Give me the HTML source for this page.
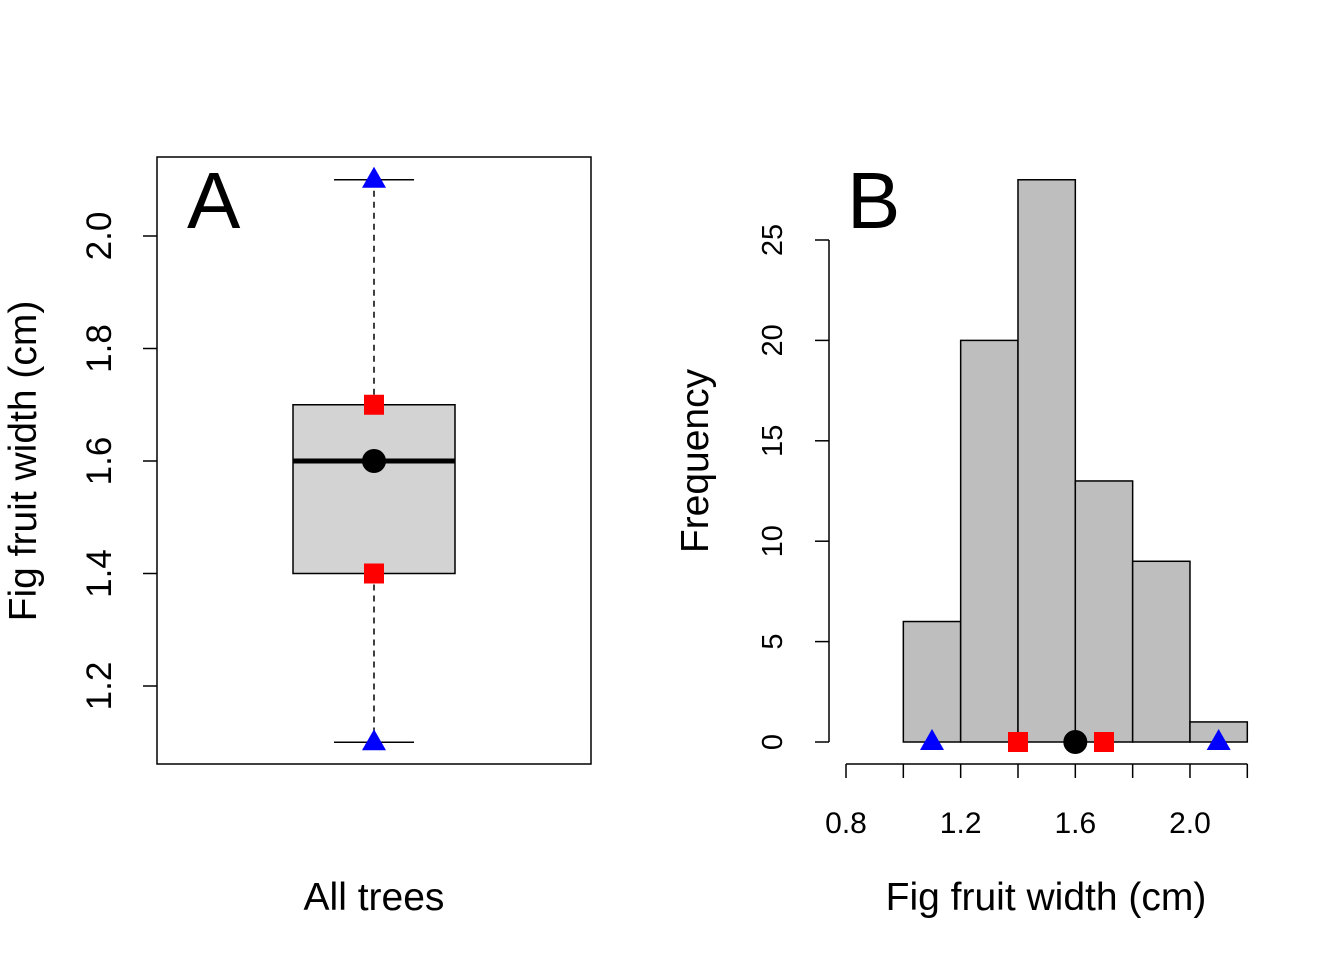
<!DOCTYPE html>
<html><head><meta charset="utf-8"><style>body{margin:0;background:#fff}svg{display:block}text{font-family:"Liberation Sans",sans-serif}</style></head>
<body>
<svg id="c" width="1344" height="960" xmlns="http://www.w3.org/2000/svg"></svg>
<script>
const boxStats=[1.1,1.4,1.6,1.7,2.1]; // min,q1,median,q3,max
const ticksA=[1.2,1.4,1.6,1.8,2.0];
const binEdges=[1.0,1.2,1.4,1.6,1.8,2.0,2.2];
const counts=[6,20,28,13,9,1];
const ticksBx=[0.8,1.0,1.2,1.4,1.6,1.8,2.0,2.2];
const labelsBx=["0.8","","1.2","","1.6","","2.0",""];
const ticksBy=[0,5,10,15,20,25];
const triPts=[1.1,2.1], sqPts=[1.4,1.7], circPt=[1.6];
const NS="http://www.w3.org/2000/svg",s=document.getElementById('c');
function el(t,a,txt){const e=document.createElementNS(NS,t);for(const k in a)e.setAttribute(k,a[k]);if(txt!=null)e.textContent=txt;s.appendChild(e);return e;}
const yA=v=>236+(2.0-v)/0.2*112.5;
const xB=v=>846+(v-0.8)/0.2*57.33;
const yB=v=>742-v/5*100.4;
function tri(x,y,n){const e=el('polygon',{points:`${x},${y-13} ${x-12},${y+8} ${x+12},${y+8}`,fill:'#00f'});}
function sq(x,y,n){const e=el('rect',{x:x-10,y:y-10,width:20,height:20,fill:'#f00'});}
function circ(x,y,n){const e=el('circle',{cx:x,cy:y,r:12,fill:'#000'});}
// Panel A
let e=el('rect',{x:157,y:157,width:434,height:607,fill:'none',stroke:'#000','stroke-width':1.5});
ticksA.forEach(t=>{el('line',{x1:143,x2:157,y1:yA(t),y2:yA(t),stroke:'#000','stroke-width':1.5});
 e=el('text',{x:111,y:yA(t),'font-size':35,'text-anchor':'middle',transform:`rotate(-90 111 ${yA(t)})`},t.toFixed(1));});
const cx=374;
el('line',{x1:cx,x2:cx,y1:yA(boxStats[4]),y2:yA(boxStats[3]),stroke:'#000','stroke-width':1.5,'stroke-dasharray':'6,5'});
el('line',{x1:cx,x2:cx,y1:yA(boxStats[1]),y2:yA(boxStats[0]),stroke:'#000','stroke-width':1.5,'stroke-dasharray':'6,5'});
el('line',{x1:334,x2:414,y1:yA(boxStats[4]),y2:yA(boxStats[4]),stroke:'#000','stroke-width':1.5});
el('line',{x1:334,x2:414,y1:yA(boxStats[0]),y2:yA(boxStats[0]),stroke:'#000','stroke-width':1.5});
e=el('rect',{x:293,y:yA(boxStats[3]),width:162,height:yA(boxStats[1])-yA(boxStats[3]),fill:'#d3d3d3',stroke:'#000','stroke-width':1.5});
el('line',{x1:293,x2:455,y1:yA(boxStats[2]),y2:yA(boxStats[2]),stroke:'#000','stroke-width':5});
tri(cx,yA(boxStats[4]),'max-marker');tri(cx,yA(boxStats[0]),'min-marker');
sq(cx,yA(boxStats[3]),'q3-marker');sq(cx,yA(boxStats[1]),'q1-marker');circ(cx,yA(boxStats[2]),'median-marker');
e=el('text',{x:187,y:228,'font-size':80},'A');
e=el('text',{x:36,y:461,'font-size':39,'text-anchor':'middle',transform:'rotate(-90 36 461)'},'Fig fruit width (cm)');
e=el('text',{x:374,y:910,'font-size':39,'text-anchor':'middle'},'All trees');
// Panel B
counts.forEach((c,i)=>{e=el('rect',{x:xB(binEdges[i]),y:yB(c),width:xB(binEdges[i+1])-xB(binEdges[i]),height:yB(0)-yB(c),fill:'#bebebe',stroke:'#000','stroke-width':1.5});
 });
el('line',{x1:xB(ticksBx[0]),x2:xB(ticksBx[ticksBx.length-1]),y1:764,y2:764,stroke:'#000','stroke-width':1.5});
ticksBx.forEach((t,i)=>{el('line',{x1:xB(t),x2:xB(t),y1:764,y2:778,stroke:'#000','stroke-width':1.5});
 if(labelsBx[i]){e=el('text',{x:xB(t),y:833,'font-size':30,'text-anchor':'middle'},labelsBx[i]);}});
el('line',{x1:829,x2:829,y1:yB(0),y2:yB(25),stroke:'#000','stroke-width':1.5});
ticksBy.forEach(t=>{el('line',{x1:815,x2:829,y1:yB(t),y2:yB(t),stroke:'#000','stroke-width':1.5});
 e=el('text',{x:782,y:yB(t),'font-size':29,'text-anchor':'middle',transform:`rotate(-90 782 ${yB(t)})`},String(t));});
triPts.forEach(v=>tri(xB(v),yB(0),'extreme-marker'));
sqPts.forEach(v=>sq(xB(v),yB(0),'quartile-marker'));
circPt.forEach(v=>circ(xB(v),yB(0),'median-marker'));
e=el('text',{x:847,y:228,'font-size':80},'B');
e=el('text',{x:708,y:461,'font-size':39,'text-anchor':'middle',transform:'rotate(-90 708 461)'},'Frequency');
e=el('text',{x:1046,y:910,'font-size':39,'text-anchor':'middle'},'Fig fruit width (cm)');
</script>
</body></html>
